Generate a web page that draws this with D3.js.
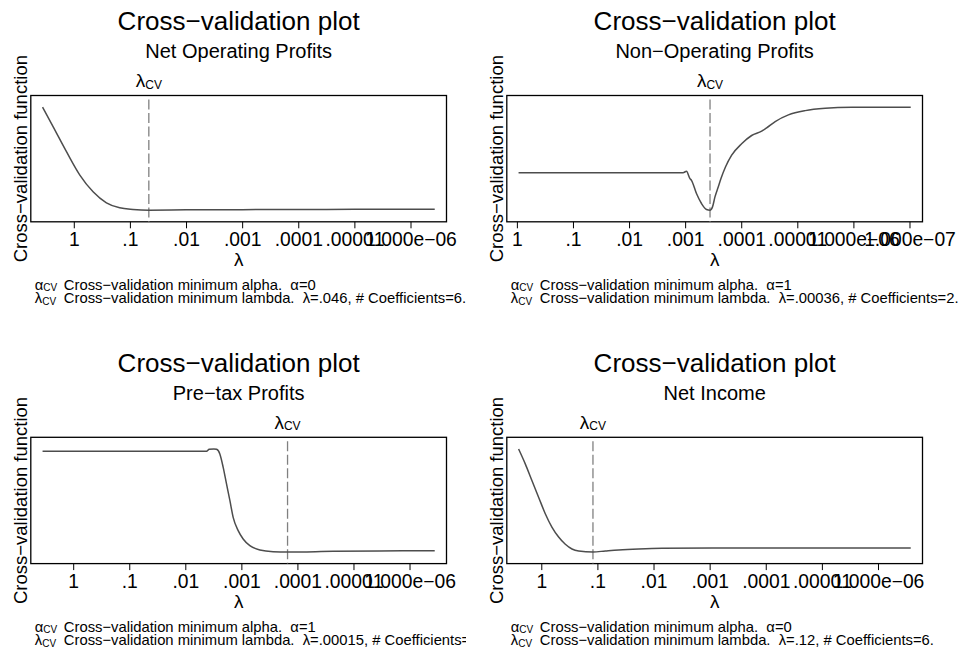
<!DOCTYPE html>
<html>
<head>
<meta charset="utf-8">
<script src="https://cdn.jsdelivr.net/npm/d3@7"></script>
<style>
  body { margin: 0; background: #fff; }
  svg { display: block; font-family: "Liberation Sans", Arial, Helvetica, sans-serif; }
  .pre { white-space: pre; }
</style>
</head>
<body>
<svg id="chart" width="959" height="647"></svg>
<script>
// panels in reading order: top-left, top-right, bottom-left, bottom-right
const subtitles = ["Net Operating Profits", "Non\u2212Operating Profits", "Pre\u2212tax Profits", "Net Income"];
const alphaCV = [0, 1, 1, 0];
const lambdaCV = [0.046, 0.00036, 0.00015, 0.12];
const lambdaCVLabels = [".046", ".00036", ".00015", ".12"];
const nCoefficients = [6, 2, null, 6];

const tickValues = [1, 0.1, 0.01, 0.001, 0.0001, 0.00001, 1e-6, 1e-7];
const tickLabels = ["1", ".1", ".01", ".001", ".0001", ".00001", "1.000e\u221206", "1.000e\u221207"];

// cross-validation function (arbitrary units)
const nopLambda = [3.6, 2.34, 1.35, 0.78, 0.453, 0.262, 0.152, 0.088, 0.046, 0.01, 0.001, 1e-4, 1e-5, 1e-6, 3.7e-7];
const nopCV = [1.027, 0.833, 0.583, 0.35, 0.183, 0.073, 0.023, 0.007, 0.0, 0.003, 0.005, 0.007, 0.008, 0.009, 0.01];

const nonopLambda = [0.933, 0.1, 0.01, 0.001087, 0.000948, 0.00082, 0.000771, 0.000628, 0.000511, 0.000416, 0.00036,
  0.000325, 0.000294, 0.000257, 0.000228, 0.000191, 0.000149, 9.84e-5, 6.52e-5, 4.32e-5, 3.52e-5, 2.48e-5,
  1.44e-5, 7.23e-6, 3.17e-6, 1.06e-6, 3.16e-7, 9.5e-8];
const nonopCV = [0.377, 0.377, 0.377, 0.377, 0.39, 0.317, 0.30, 0.167, 0.067, 0.007, 0.0,
  0.033, 0.133, 0.233, 0.322, 0.433, 0.55, 0.667, 0.75, 0.793, 0.827, 0.89,
  0.957, 1.0, 1.023, 1.033, 1.034, 1.035];

const pretaxLambda = [3.52, 0.1, 0.01, 0.00418, 0.00375, 0.00309, 0.00277, 0.00242, 0.00211, 0.00184, 0.0016,
  0.0014, 0.00114, 0.000929, 0.000706, 0.000468, 0.000271, 0.00015, 2.31e-5, 3.39e-6, 3.55e-7];
const pretaxCV = [1.006, 1.006, 1.006, 1.006, 1.026, 1.03, 1.026, 0.98, 0.846, 0.68, 0.513,
  0.346, 0.213, 0.13, 0.063, 0.02, 0.003, 0.0, 0.006, 0.01, 0.013];

const netLambda = [2.54, 1.93, 1.47, 1.117, 0.849, 0.647, 0.491, 0.373, 0.284, 0.216, 0.12, 0.0721, 0.0418,
  0.0184, 0.00705, 0.000904, 2.45e-5, 2.61e-7];
const netCV = [1.034, 0.884, 0.717, 0.55, 0.384, 0.25, 0.15, 0.077, 0.03, 0.01, 0.0, 0.01, 0.02,
  0.03, 0.037, 0.04, 0.04, 0.04];

const seriesLambda = [nopLambda, nonopLambda, pretaxLambda, netLambda];
const seriesCV = [nopCV, nonopCV, pretaxCV, netCV];

const svg = d3.select("#chart");

// layout of one panel (relative to its origin)
const box = { left: 30.8, top: 95.5, width: 415.7, height: 126.3 };
const colX = [0, 476];
const rowY = [0, 341.8];

subtitles.forEach((sub, i) => {
  const col = i % 2, row = Math.floor(i / 2);
  const g = svg.append("g").attr("transform", `translate(${colX[col]},${rowY[row]})`);

  if (col === 0) {
    g.append("clipPath").attr("id", "clip" + i)
      .append("rect").attr("x", 0).attr("y", 0).attr("width", 466).attr("height", 320);
    g.attr("clip-path", `url(#clip${i})`);
  }

  const lam = seriesLambda[i], cv = seriesCV[i];
  const data = lam.map((l, k) => [l, cv[k]]);

  // x: log lambda, decreasing to the right, padded by 3% of the span
  const hi = Math.log10(d3.max(lam)), lo = Math.log10(d3.min(lam));
  const xpad = 0.03 * (hi - lo);
  const x = d3.scaleLog()
    .domain([Math.pow(10, hi + xpad), Math.pow(10, lo - xpad)])
    .range([box.left, box.left + box.width]);

  const [ymin, ymax] = d3.extent(cv);
  const ypad = 0.113 * (ymax - ymin);
  const y = d3.scaleLinear()
    .domain([ymin - ypad, ymax + ypad])
    .range([box.top + box.height, box.top]);

  const cx = box.left + box.width / 2;

  // titles
  g.append("text").attr("x", cx).attr("y", 30.2).attr("text-anchor", "middle")
    .attr("font-size", 26).text("Cross\u2212validation plot");
  g.append("text").attr("x", cx).attr("y", 58.4).attr("text-anchor", "middle")
    .attr("font-size", 20).text(sub);

  // plot frame
  g.append("rect")
    .attr("x", box.left).attr("y", box.top)
    .attr("width", box.width).attr("height", box.height)
    .attr("fill", "none").attr("stroke", "#000").attr("stroke-width", 1.3);

  // x axis
  const [d0, d1] = x.domain();
  const ticks = tickValues.filter(t => t <= d0 && t >= d1);
  const axis = d3.axisBottom(x)
    .tickValues(ticks)
    .tickFormat(t => tickLabels[tickValues.indexOf(t)])
    .tickSize(6.5)
    .tickSizeOuter(0);
  const ax = g.append("g")
    .attr("transform", `translate(0,${box.top + box.height})`)
    .call(axis);
  ax.select(".domain").remove();
  ax.selectAll(".tick line").attr("stroke", "#000").attr("stroke-width", 1);
  ax.selectAll(".tick text")
    .attr("y", 24).attr("dy", null)
    .attr("fill", "#000")
    .attr("font-size", 19.3)
    .attr("font-family", "Liberation Sans, Arial, Helvetica, sans-serif");

  // axis titles
  g.append("text").attr("x", cx).attr("y", 266.2).attr("text-anchor", "middle")
    .attr("font-size", 19).text("\u03bb");
  g.append("text")
    .attr("transform", `translate(27,${box.top + box.height / 2}) rotate(-90)`)
    .attr("text-anchor", "middle").attr("font-size", 18.5)
    .text("Cross\u2212validation function");

  // lambda_cv reference line
  const xl = x(lambdaCV[i]);
  g.append("line")
    .attr("x1", xl).attr("x2", xl)
    .attr("y1", box.top + 4).attr("y2", box.top + box.height)
    .attr("stroke", "#808080").attr("stroke-width", 1.3)
    .attr("stroke-dasharray", "10,3.5");
  const lt = g.append("text").attr("x", xl).attr("y", 87.2).attr("text-anchor", "middle");
  lt.append("tspan").attr("font-size", 19).text("\u03bb");
  lt.append("tspan").attr("font-size", 12).attr("dy", 1.5).text("CV");

  // cv curve
  const line = d3.line()
    .x(d => x(d[0]))
    .y(d => y(d[1]))
    .curve(d3.curveMonotoneX);
  g.append("path")
    .datum(data)
    .attr("d", line)
    .attr("fill", "none")
    .attr("stroke", "#4d4d4d")
    .attr("stroke-width", 1.5);

  // notes under the plot
  const keyX = box.left + 4, noteX = box.left + 33;
  const k1 = g.append("text").attr("x", keyX).attr("y", 289.9).attr("font-size", 14.8);
  k1.append("tspan").text("\u03b1");
  k1.append("tspan").attr("font-size", 10).attr("dy", 1.5).text("CV");
  const k2 = g.append("text").attr("x", keyX).attr("y", 303.4).attr("font-size", 14.8);
  k2.append("tspan").text("\u03bb");
  k2.append("tspan").attr("font-size", 10).attr("dy", 1.5).text("CV");

  g.append("text").attr("class", "pre").attr("x", noteX).attr("y", 289.9).attr("font-size", 14.8)
    .text(`Cross\u2212validation minimum alpha.  \u03b1=${alphaCV[i]}`);
  const coef = nCoefficients[i] === null ? "" : nCoefficients[i] + ".";
  g.append("text").attr("class", "pre").attr("x", noteX).attr("y", 303.4).attr("font-size", 14.8)
    .text(`Cross\u2212validation minimum lambda.  \u03bb=${lambdaCVLabels[i]}, # Coefficients=${coef}`);
});
</script>
</body>
</html>
